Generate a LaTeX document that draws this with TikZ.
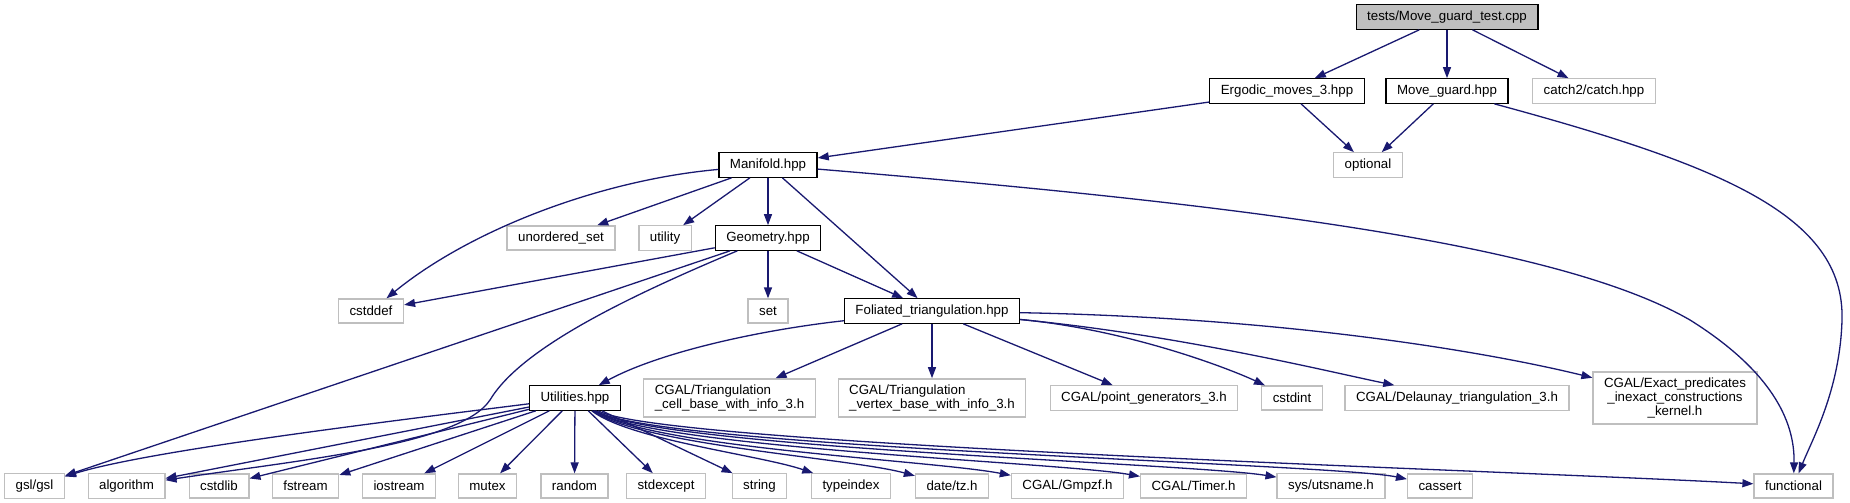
\documentclass[tikz,border=0pt]{standalone}
\usepackage{fontspec}
\setmainfont{Liberation Sans}
\usepackage{xcolor}
\usepackage{tikz}
\usetikzlibrary{arrows.meta}

\definecolor{edgeblue}{HTML}{191970}
\definecolor{grey75}{HTML}{BFBFBF}

\begin{document}
\begin{tikzpicture}[x=1pt, y=-1pt,
		filebox/.style={draw, rectangle, fill=white, line width=1.3pt, inner xsep=11pt, inner ysep=6pt, minimum height=24pt, font=\fontsize{13.3}{14}\selectfont},
		docbox/.style={filebox, draw=black},
		extbox/.style={filebox, draw=grey75},
		rootbox/.style={filebox, draw=black, fill=grey75},
		dep/.style={draw=edgeblue, line width=1.3pt, -{Triangle[length=11pt, width=8pt]}}]
		\useasboundingbox (0,0) rectangle (1850,503);

		% top levels
		\node[rootbox] (root) at (1447,17) {tests/Move\_guard\_test.cpp};
		\node[docbox] (em) at (1287,91) {Ergodic\_moves\_3.hpp};
		\node[docbox] (mg) at (1447,91) {Move\_guard.hpp};
		\node[extbox] (cat) at (1594,91) {catch2/catch.hpp};
		\node[extbox] (opt) at (1368,165) {optional};
		\node[docbox] (man) at (768,165) {Manifold.hpp};
		\node[extbox] (uset) at (561,238) {unordered\_set};
		\node[extbox] (util) at (665,238) {utility};
		\node[docbox] (geo) at (768,238) {Geometry.hpp};
		\node[extbox] (cdef) at (371,311) {cstddef};
		\node[extbox] (stdset) at (768,311) {set};
		\node[docbox] (fol) at (932,311) {Foliated\_triangulation.hpp};

		% level of Utilities
		\node[docbox] (ut) at (575,398) {Utilities.hpp};
		\node[extbox, align=left] (cell) at (729.5,398) {CGAL/Triangulation\\\_cell\_base\_with\_info\_3.h};
		\node[extbox, align=left] (vert) at (932,398) {CGAL/Triangulation\\\_vertex\_base\_with\_info\_3.h};
		\node[extbox] (pgen) at (1144,398) {CGAL/point\_generators\_3.h};
		\node[extbox] (cint) at (1292,398) {cstdint};
		\node[extbox] (del) at (1457,398) {CGAL/Delaunay\_triangulation\_3.h};
		\node[extbox, align=center] (exact) at (1675,398) {CGAL/Exact\_predicates\\\_inexact\_constructions\\\_kernel.h};

		% bottom row
		\node[extbox] (gsl) at (34.5,486) {gsl/gsl};
		\node[extbox] (alg) at (126.5,486) {algorithm};
		\node[extbox] (clib) at (219,486) {cstdlib};
		\node[extbox] (fst) at (305.5,486) {fstream};
		\node[extbox] (ios) at (399,486) {iostream};
		\node[extbox] (mtx) at (487.5,486) {mutex};
		\node[extbox] (rnd) at (574.5,486) {random};
		\node[extbox] (sexc) at (666,486) {stdexcept};
		\node[extbox] (str) at (759.5,486) {string};
		\node[extbox] (tidx) at (851,486) {typeindex};
		\node[extbox] (tz) at (952,486) {date/tz.h};
		\node[extbox] (gmp) at (1067.5,486) {CGAL/Gmpzf.h};
		\node[extbox] (tmr) at (1193.5,486) {CGAL/Timer.h};
		\node[extbox] (uts) at (1331,486) {sys/utsname.h};
		\node[extbox] (cas) at (1440,486) {cassert};
		\node[extbox] (fun) at (1793.5,486) {functional};

		% includes of the test and its headers
		\draw[dep] (root) -- (em);
		\draw[dep] (root) -- (mg);
		\draw[dep] (root) -- (cat);
		\draw[dep] (em) -- (man);
		\draw[dep] (em) -- (opt);
		\draw[dep] (mg) -- (opt);
		\draw[dep] (mg) .. controls (1720,165) and (1845,215) .. (1842,320) .. controls (1840,390) and (1812,440) .. (fun);

		% Manifold.hpp
		\draw[dep] (man) .. controls (600,180) and (470,230) .. (cdef);
		\draw[dep] (man) -- (uset);
		\draw[dep] (man) -- (util);
		\draw[dep] (man) -- (geo);
		\draw[dep] (man) -- (fol);
		\draw[dep] (man) .. controls (1250,205) and (1560,245) .. (1690,320) .. controls (1770,370) and (1795,420) .. (fun);

		% Geometry.hpp
		\draw[dep] (geo) -- (cdef);
		\draw[dep] (geo) -- (stdset);
		\draw[dep] (geo) -- (fol);
		\draw[dep] (geo) -- (gsl);
		\draw[dep] (geo) .. controls (620,300) and (520,350) .. (490,400) .. controls (460,445) and (300,460) .. (alg);

		% Foliated_triangulation.hpp
		\draw[dep] (fol) .. controls (760,330) and (660,352) .. (ut);
		\draw[dep] (fol) -- (cell);
		\draw[dep] (fol) -- (vert);
		\draw[dep] (fol) -- (pgen);
		\draw[dep] (fol) .. controls (1130,330) and (1230,369) .. (cint);
		\draw[dep] (fol) .. controls (1180,335) and (1330,372) .. (del);
		\draw[dep] (fol) .. controls (1300,318) and (1500,355) .. (exact);

		% Utilities.hpp
		\draw[dep] (ut) .. controls (400,420) and (150,450) .. (gsl);
		\draw[dep] (ut) -- (alg);
		\draw[dep] (ut) -- (clib);
		\draw[dep] (ut) -- (fst);
		\draw[dep] (ut) -- (ios);
		\draw[dep] (ut) -- (mtx);
		\draw[dep] (ut) -- (rnd);
		\draw[dep] (ut) -- (sexc);
		\draw[dep] (ut) -- (str);
		\draw[dep] (ut) .. controls (630,440) and (760,455) .. (tidx);
		\draw[dep] (ut) .. controls (640,445) and (850,458) .. (tz);
		\draw[dep] (ut) .. controls (650,448) and (930,460) .. (gmp);
		\draw[dep] (ut) .. controls (650,448) and (1060,462) .. (tmr);
		\draw[dep] (ut) .. controls (655,448) and (1190,463) .. (uts);
		\draw[dep] (ut) .. controls (655,448) and (1330,463) .. (cas);
		\draw[dep] (ut) .. controls (660,445) and (1500,470) .. (fun);
	\end{tikzpicture}
\end{document}
